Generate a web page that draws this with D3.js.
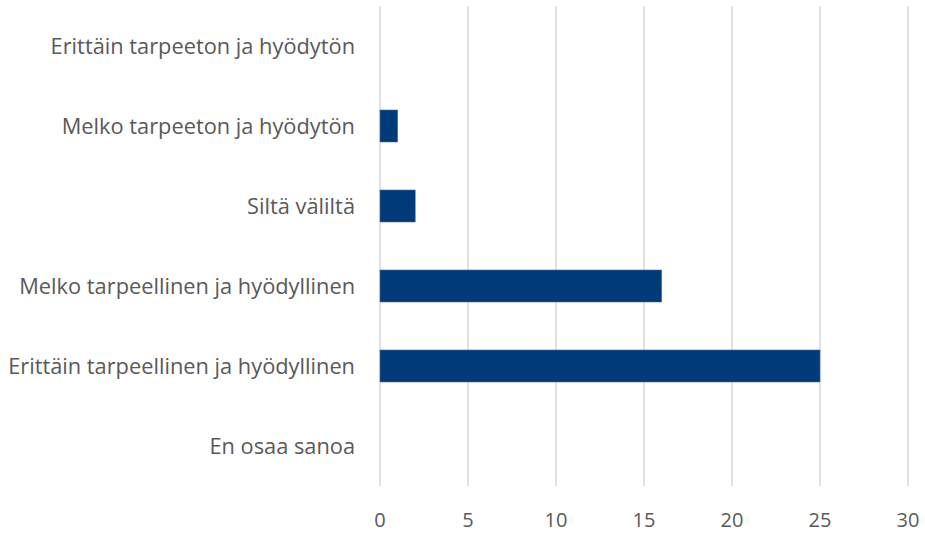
<!DOCTYPE html>
<html lang="fi">
<head>
<meta charset="UTF-8">
<title>Bar chart</title>
<script src="https://d3js.org/d3.v7.min.js"></script>
<style>
    body { margin: 0; background: #fff; }
    .grid line { stroke: #d9d9d9; stroke-width: 1.5px; }
    .label { font-family: "Open Sans", sans-serif; font-size: 21.8px; fill: #595959; }
    .tick-label { font-family: "Open Sans", sans-serif; font-size: 20px; fill: #595959; }
</style>
</head>
<body>
<svg width="925" height="534"></svg>
<script>
    const categories = [
        "Erittäin tarpeeton ja hyödytön",
        "Melko tarpeeton ja hyödytön",
        "Siltä väliltä",
        "Melko tarpeellinen ja hyödyllinen",
        "Erittäin tarpeellinen ja hyödyllinen",
        "En osaa sanoa"
    ];
    const values = [0, 1, 2, 16, 25, 0];
    const ticks = [0, 5, 10, 15, 20, 25, 30];

    const margin = {top: 6, right: 17, bottom: 48, left: 380};
    const width = 925, height = 534;

    const svg = d3.select("svg");

    const x = d3.scaleLinear().domain([0, 30]).range([margin.left, width - margin.right]);
    const y = d3.scaleBand().domain(categories).range([margin.top, height - margin.bottom]).paddingInner(0.6).paddingOuter(0.3);

    // vertical gridlines
    svg.append("g")
        .attr("class", "grid")
        .selectAll("line")
        .data(ticks)
        .join("line")
        .attr("x1", d => x(d)).attr("x2", d => x(d))
        .attr("y1", margin.top).attr("y2", height - margin.bottom);

    // bars
    svg.append("g")
        .selectAll("rect")
        .data(values)
        .join("rect")
        .attr("x", x(0))
        .attr("y", (d, i) => y(categories[i]))
        .attr("width", d => x(d) - x(0))
        .attr("height", y.bandwidth())
        .attr("fill", "#003a78")
        .attr("stroke", d => d > 0 ? "#4a6f9a" : "none")
        .attr("stroke-width", 0.6);

    // category labels
    svg.append("g")
        .selectAll("text")
        .data(categories)
        .join("text")
        .attr("class", "label")
        .attr("x", 355)
        .attr("y", d => y(d) + y.bandwidth() / 2)
        .attr("dy", "0.35em")
        .attr("text-anchor", "end")
        .text(d => d);

    // x tick labels
    svg.append("g")
        .selectAll("text")
        .data(ticks)
        .join("text")
        .attr("class", "tick-label")
        .attr("x", d => x(d))
        .attr("y", 527)
        .attr("text-anchor", "middle")
        .text(d => d);
</script>
</body>
</html>
